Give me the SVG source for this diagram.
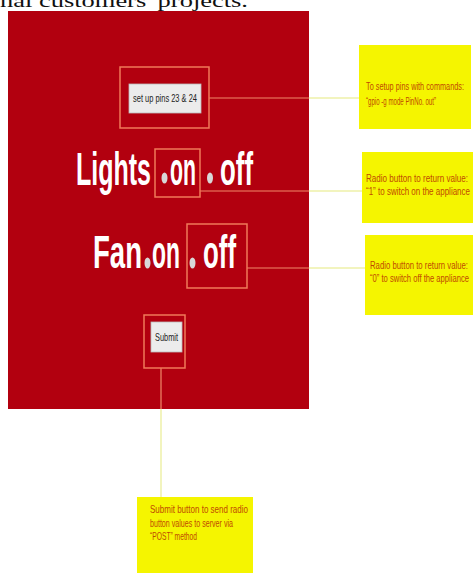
<svg xmlns="http://www.w3.org/2000/svg" width="475" height="573" viewBox="0 0 475 573">
<style>
.big{font-family:"Liberation Sans",Arial,sans-serif;font-weight:bold;font-size:46px;fill:#ffffff;}
.note{font-family:"Liberation Sans",Arial,sans-serif;font-size:10px;fill:#c04a00;}
.btn{font-family:"Liberation Sans",Arial,sans-serif;font-size:10px;fill:#222;}
.frame{fill:none;stroke:#f07a5a;stroke-width:1.5;}
.yel{fill:#f5f500;}
.inred{stroke:#f08a6a;stroke-width:1.2;fill:none;}
.outred{stroke:#eef0a8;stroke-width:1.5;fill:none;}
.radio{fill:#d8d8d8;}
</style>
<rect width="475" height="573" fill="#ffffff"/>
<text x="0" y="7" font-family="Liberation Serif, serif" font-size="19" fill="#111" textLength="248" lengthAdjust="spacingAndGlyphs">nal customers' projects.</text>
<rect id="panel" x="8" y="11" width="301" height="398" fill="#b2000f"/>

<g id="connectors">
<line class="inred" x1="209" y1="98" x2="309" y2="98"/>
<line class="outred" x1="309" y1="98" x2="359" y2="98"/>
<line class="inred" x1="200" y1="191" x2="309" y2="191"/>
<line class="outred" x1="309" y1="191" x2="362" y2="191"/>
<line class="inred" x1="247" y1="268" x2="309" y2="268"/>
<line class="outred" x1="309" y1="268" x2="365" y2="268"/>
<line class="inred" x1="161" y1="368" x2="161" y2="409"/>
<line class="outred" x1="161" y1="409" x2="161" y2="497"/>
</g>

<g id="setup">
<rect class="frame" x="120" y="67" width="89" height="61"/>
<rect x="129" y="84" width="72" height="29" fill="#ececec" stroke="#bbb" stroke-width="0.8"/>
<text class="btn" transform="translate(133,102) scale(0.7,1)" textLength="91.4" lengthAdjust="spacingAndGlyphs">set up pins 23 &amp; 24</text>
</g>

<g id="lights">
<text class="big" transform="translate(76,185) scale(0.55,1)" textLength="136.4" lengthAdjust="spacingAndGlyphs">Lights</text>
<ellipse class="radio" cx="164.5" cy="178" rx="3" ry="5.5"/>
<text class="big" transform="translate(170,185) scale(0.47,1)" textLength="55.3" lengthAdjust="spacingAndGlyphs">on</text>
<ellipse class="radio" cx="210" cy="178" rx="3" ry="5.5"/>
<text class="big" transform="translate(220,185) scale(0.56,1)" textLength="58.9" lengthAdjust="spacingAndGlyphs">off</text>
<rect class="frame" x="155" y="149" width="45" height="48"/>
</g>

<g id="fan">
<text class="big" transform="translate(93,268) scale(0.6,1)" textLength="81.7" lengthAdjust="spacingAndGlyphs">Fan</text>
<ellipse class="radio" cx="147.5" cy="263" rx="3" ry="5.5"/>
<text class="big" transform="translate(152,268) scale(0.5,1)" textLength="56" lengthAdjust="spacingAndGlyphs">on</text>
<ellipse class="radio" cx="192.5" cy="263" rx="3" ry="5.5"/>
<text class="big" transform="translate(203,268) scale(0.56,1)" textLength="58.9" lengthAdjust="spacingAndGlyphs">off</text>
<rect class="frame" x="187" y="224" width="60" height="64"/>
</g>

<g id="submit">
<rect class="frame" x="144" y="315" width="41" height="53"/>
<rect x="151" y="322" width="31" height="30" fill="#ececec" stroke="#bbb" stroke-width="0.8"/>
<text class="btn" transform="translate(155,341) scale(0.7,1)" textLength="32.9" lengthAdjust="spacingAndGlyphs">Submit</text>
</g>

<g id="note-setup">
<rect class="yel" x="359" y="45" width="112" height="84"/>
<text class="note" transform="translate(366,90) scale(0.7,1)" textLength="140" lengthAdjust="spacingAndGlyphs">To setup pins with commands:</text>
<text class="note" transform="translate(366,105) scale(0.7,1)" textLength="100" lengthAdjust="spacingAndGlyphs">“gpio -g mode PinNo. out”</text>
</g>

<g id="note-on">
<rect class="yel" x="362" y="152" width="111" height="71"/>
<text class="note" transform="translate(366,182) scale(0.7,1)" textLength="145.7" lengthAdjust="spacingAndGlyphs">Radio button to return value:</text>
<text class="note" transform="translate(366,195) scale(0.7,1)" textLength="148.6" lengthAdjust="spacingAndGlyphs">“1” to switch on the appliance</text>
</g>

<g id="note-off">
<rect class="yel" x="365" y="235" width="108" height="80"/>
<text class="note" transform="translate(370,269) scale(0.7,1)" textLength="140" lengthAdjust="spacingAndGlyphs">Radio button to return value:</text>
<text class="note" transform="translate(370,282) scale(0.7,1)" textLength="141.4" lengthAdjust="spacingAndGlyphs">“0” to switch off the appliance</text>
</g>

<g id="note-submit">
<rect class="yel" x="137" y="497" width="116" height="76"/>
<text class="note" transform="translate(150,513) scale(0.7,1)" textLength="140" lengthAdjust="spacingAndGlyphs">Submit button to send radio</text>
<text class="note" transform="translate(150,527) scale(0.7,1)" textLength="118.6" lengthAdjust="spacingAndGlyphs">button values to server via</text>
<text class="note" transform="translate(150,540) scale(0.7,1)" textLength="67.1" lengthAdjust="spacingAndGlyphs">“POST” method</text>
</g>
</svg>
